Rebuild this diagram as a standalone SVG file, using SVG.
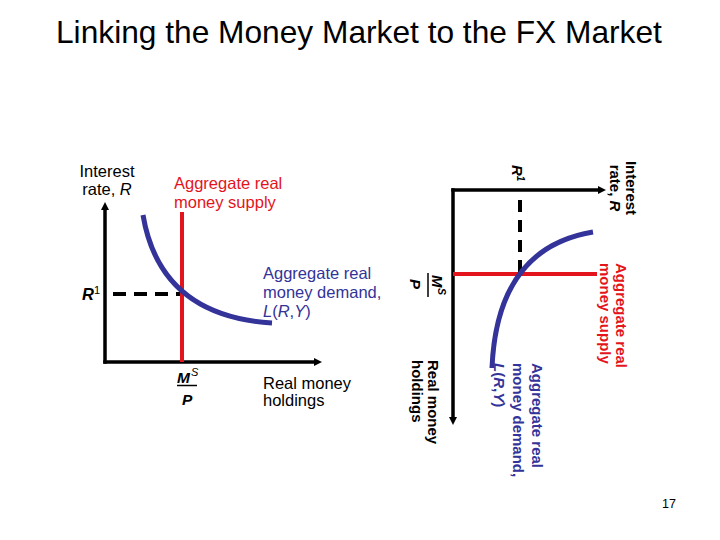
<svg xmlns="http://www.w3.org/2000/svg" width="720" height="540" viewBox="0 0 720 540">
<style>
text{font-family:"Liberation Sans",Arial,sans-serif;fill:#000}
.lbl{font-size:16.5px}
.rl{font-size:15px;font-weight:bold}
.red{fill:#e3141c}
.blue{fill:#333399}
.ax{stroke:#000;stroke-width:3.5;fill:none}
.ms{stroke:#e3141c;stroke-width:4;fill:none}
.md{stroke:#333399;stroke-width:5;fill:none}
.dash{stroke:#000;stroke-width:4;stroke-dasharray:13 8;fill:none}
.bi{font-weight:bold;font-style:italic}
</style>
<defs>
<marker id="arr" viewBox="0 0 8 8" refX="0" refY="4" markerWidth="8" markerHeight="8" markerUnits="userSpaceOnUse" orient="auto">
<path d="M0,0 L8,4 L0,8 z" fill="#000"/>
</marker>
</defs>
<rect width="720" height="540" fill="#fff"/>
<text x="56" y="43" style="font-size:31.7px">Linking the Money Market to the FX Market</text>

<g id="left-diagram">
  <g id="left-connectors">
    <line class="ax" x1="105" y1="363.7" x2="105" y2="210" marker-end="url(#arr)"/>
    <line class="ax" x1="103.3" y1="362" x2="314" y2="362" marker-end="url(#arr)"/>
    <line class="dash" x1="113" y1="294" x2="182" y2="294"/>
    <line class="ms" x1="182" y1="212" x2="182" y2="362"/>
    <path class="md" d="M143,215 Q160,316 272,323"/>
  </g>
  <g id="left-labels">
    <text class="lbl" text-anchor="middle" x="107" y="177">Interest</text>
    <text class="lbl" text-anchor="middle" x="107" y="195">rate, <tspan font-style="italic">R</tspan></text>
    <text class="lbl red" x="174" y="189">Aggregate real</text>
    <text class="lbl red" x="174" y="208">money supply</text>
    <text class="lbl blue" x="263" y="279">Aggregate real</text>
    <text class="lbl blue" x="263" y="298">money demand,</text>
    <text class="lbl blue" x="263" y="317"><tspan font-style="italic">L</tspan>(<tspan font-style="italic">R</tspan>,<tspan font-style="italic">Y</tspan>)</text>
    <text class="lbl" x="263" y="389">Real money</text>
    <text class="lbl" x="263" y="406">holdings</text>
    <text class="lbl bi" x="82" y="300">R<tspan font-size="11" dy="-6" font-weight="normal" font-style="normal">1</tspan></text>
    <text class="bi" style="font-size:15.5px" x="177" y="383">M</text>
    <text style="font-size:11px;font-style:italic" x="191" y="376">S</text>
    <line x1="177" y1="385.5" x2="197" y2="385.5" stroke="#000" stroke-width="1.5"/>
    <text class="bi" style="font-size:15.5px" x="182" y="405">P</text>
  </g>
</g>

<g id="right-diagram" transform="translate(453,190) rotate(90)">
  <g id="right-connectors">
    <line class="ax" x1="-1.7" y1="0" x2="227" y2="0" marker-end="url(#arr)"/>
    <line class="ax" x1="0" y1="1.7" x2="0" y2="-145" marker-end="url(#arr)"/>
    <line class="dash" x1="10" y1="-67" x2="84" y2="-67" style="stroke-dasharray:12 8"/>
    <line class="ms" x1="84" y1="0" x2="84" y2="-144"/>
    <path class="md" d="M42,-140 Q58,-44 178,-39"/>
  </g>
  <g id="right-labels">
    <text class="rl" text-anchor="middle" x="-2" y="-173">Interest</text>
    <text class="rl" text-anchor="middle" x="-2" y="-157">rate, <tspan font-style="italic">R</tspan></text>
    <text class="rl red" x="73" y="-163">Aggregate real</text>
    <text class="rl red" x="73" y="-147">money supply</text>
    <text class="rl blue" x="173" y="-79">Aggregate real</text>
    <text class="rl blue" x="173" y="-60">money demand,</text>
    <text class="rl blue" x="173" y="-41"><tspan font-style="italic">L</tspan>(<tspan font-style="italic">R</tspan>,<tspan font-style="italic">Y</tspan>)</text>
    <text class="rl" x="170" y="25">Real money</text>
    <text class="rl" x="170" y="41">holdings</text>
    <text class="rl bi" x="-25" y="-59">R<tspan font-size="10" dy="-5">1</tspan></text>
    <text class="bi" style="font-size:15px" x="85" y="21">M</text>
    <text style="font-size:10.5px;font-style:italic;font-weight:bold" x="98" y="15">S</text>
    <line x1="83" y1="25" x2="107" y2="25" stroke="#000" stroke-width="1.5"/>
    <text class="bi" style="font-size:15px" x="89" y="43">P</text>
  </g>
</g>

<text x="662" y="508" style="font-size:12.5px">17</text>
</svg>
